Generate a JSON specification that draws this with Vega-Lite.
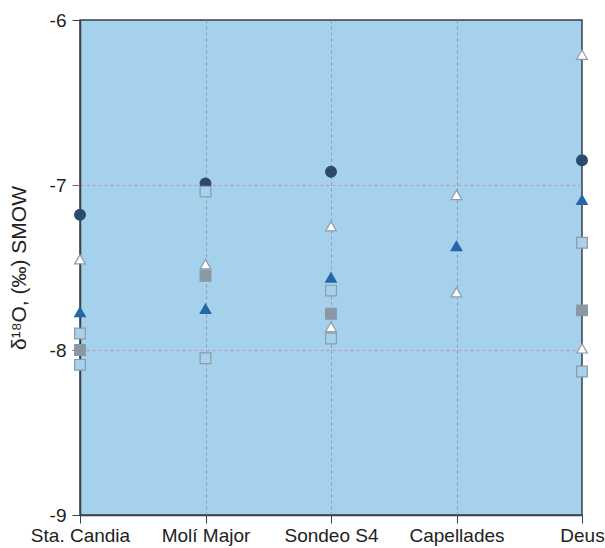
{
  "$schema": "https://vega.github.io/schema/vega-lite/v6.json",
  "width": 502,
  "height": 495,
  "autosize": {"type": "none"},
  "padding": {"left": 80, "top": 20, "right": 23, "bottom": 33},
  "background": "#ffffff",
  "config": {
    "font": "Liberation Sans",
    "view": {"fill": "#a5d1ed", "stroke": "#3a3f48", "strokeWidth": 1.5}
  },
  "data": {
    "values": [
      {"site": "Sta. Candia", "series": "circle", "d18O": -7.18},
      {"site": "Sta. Candia", "series": "open triangle", "d18O": -7.45},
      {"site": "Sta. Candia", "series": "filled triangle", "d18O": -7.77},
      {"site": "Sta. Candia", "series": "open square", "d18O": -7.9},
      {"site": "Sta. Candia", "series": "grey square", "d18O": -8.0},
      {"site": "Sta. Candia", "series": "open square", "d18O": -8.09},
      {"site": "Molí Major", "series": "circle", "d18O": -6.99},
      {"site": "Molí Major", "series": "open square", "d18O": -7.04},
      {"site": "Molí Major", "series": "open triangle", "d18O": -7.48},
      {"site": "Molí Major", "series": "grey square", "d18O": -7.55},
      {"site": "Molí Major", "series": "filled triangle", "d18O": -7.75},
      {"site": "Molí Major", "series": "open square", "d18O": -8.05},
      {"site": "Sondeo S4", "series": "circle", "d18O": -6.92},
      {"site": "Sondeo S4", "series": "open triangle", "d18O": -7.25},
      {"site": "Sondeo S4", "series": "filled triangle", "d18O": -7.56},
      {"site": "Sondeo S4", "series": "open square", "d18O": -7.64},
      {"site": "Sondeo S4", "series": "grey square", "d18O": -7.78},
      {"site": "Sondeo S4", "series": "open triangle", "d18O": -7.86},
      {"site": "Sondeo S4", "series": "open square", "d18O": -7.93},
      {"site": "Capellades", "series": "open triangle", "d18O": -7.06},
      {"site": "Capellades", "series": "filled triangle", "d18O": -7.37},
      {"site": "Capellades", "series": "open triangle", "d18O": -7.65},
      {"site": "Deus", "series": "open triangle", "d18O": -6.21},
      {"site": "Deus", "series": "circle", "d18O": -6.85},
      {"site": "Deus", "series": "filled triangle", "d18O": -7.09},
      {"site": "Deus", "series": "open square", "d18O": -7.35},
      {"site": "Deus", "series": "grey square", "d18O": -7.76},
      {"site": "Deus", "series": "open triangle", "d18O": -7.99},
      {"site": "Deus", "series": "open square", "d18O": -8.13}
    ]
  },
  "mark": {"type": "point", "size": 115, "strokeWidth": 1.2, "opacity": 1},
  "encoding": {
    "x": {
      "field": "site",
      "type": "nominal",
      "sort": ["Sta. Candia", "Molí Major", "Sondeo S4", "Capellades", "Deus"],
      "scale": {"type": "point", "padding": 0},
      "axis": {
        "title": null,
        "labelAngle": 0,
        "labelFont": "Liberation Sans",
        "labelFontSize": 19,
        "labelColor": "#222222",
        "labelPadding": 3,
        "tickSize": 8,
        "tickColor": "#3a3f48",
        "domainColor": "#3a3f48",
        "domainWidth": 1.5,
        "grid": true,
        "gridColor": "#8e9aa8",
        "gridOpacity": {"condition": {"test": "datum.value == 'Sta. Candia' || datum.value == 'Deus'", "value": 0}, "value": 1},
        "gridDash": [3, 3],
        "gridWidth": 1
      }
    },
    "y": {
      "field": "d18O",
      "type": "quantitative",
      "scale": {"domain": [-9, -6], "nice": false, "zero": false},
      "axis": {
        "title": "δ¹⁸O, (‰) SMOW",
        "titleFont": "Liberation Sans",
        "titleFontSize": 21,
        "titleFontWeight": "normal",
        "titleColor": "#222222",
        "titlePadding": 20,
        "values": [-9, -8, -7, -6],
        "labelExpr": "'' + datum.value",
        "labelFont": "Liberation Sans",
        "labelFontSize": 19,
        "labelColor": "#222222",
        "labelPadding": 6,
        "tickSize": 8,
        "tickColor": {"condition": {"test": "datum.value == -7 || datum.value == -8", "value": "#a0508a"}, "value": "#3a3f48"},
        "domainColor": "#3a3f48",
        "domainWidth": 1.5,
        "grid": true,
        "gridColor": "#c890c0",
        "gridOpacity": {"condition": {"test": "datum.value == -6 || datum.value == -9", "value": 0}, "value": 1},
        "gridDash": [3, 3],
        "gridWidth": 1
      }
    },
    "shape": {
      "field": "series",
      "type": "nominal",
      "scale": {
        "domain": ["circle", "open triangle", "filled triangle", "open square", "grey square"],
        "range": ["circle", "triangle-up", "triangle-up", "square", "square"]
      },
      "legend": null
    },
    "fill": {
      "field": "series",
      "type": "nominal",
      "scale": {
        "domain": ["circle", "open triangle", "filled triangle", "open square", "grey square"],
        "range": ["#2b4a6c", "#ffffff", "#2466a6", "#a6d2ee", "#8a98a6"]
      },
      "legend": null
    },
    "fillOpacity": {
      "field": "series",
      "type": "nominal",
      "scale": {
        "domain": ["circle", "open triangle", "filled triangle", "open square", "grey square"],
        "range": [1, 1, 1, 0, 1]
      },
      "legend": null
    },
    "stroke": {
      "field": "series",
      "type": "nominal",
      "scale": {
        "domain": ["circle", "open triangle", "filled triangle", "open square", "grey square"],
        "range": ["#2b4a6c", "#8e9aa6", "#2466a6", "#8e9aa6", "#8a98a6"]
      },
      "legend": null
    }
  }
}
